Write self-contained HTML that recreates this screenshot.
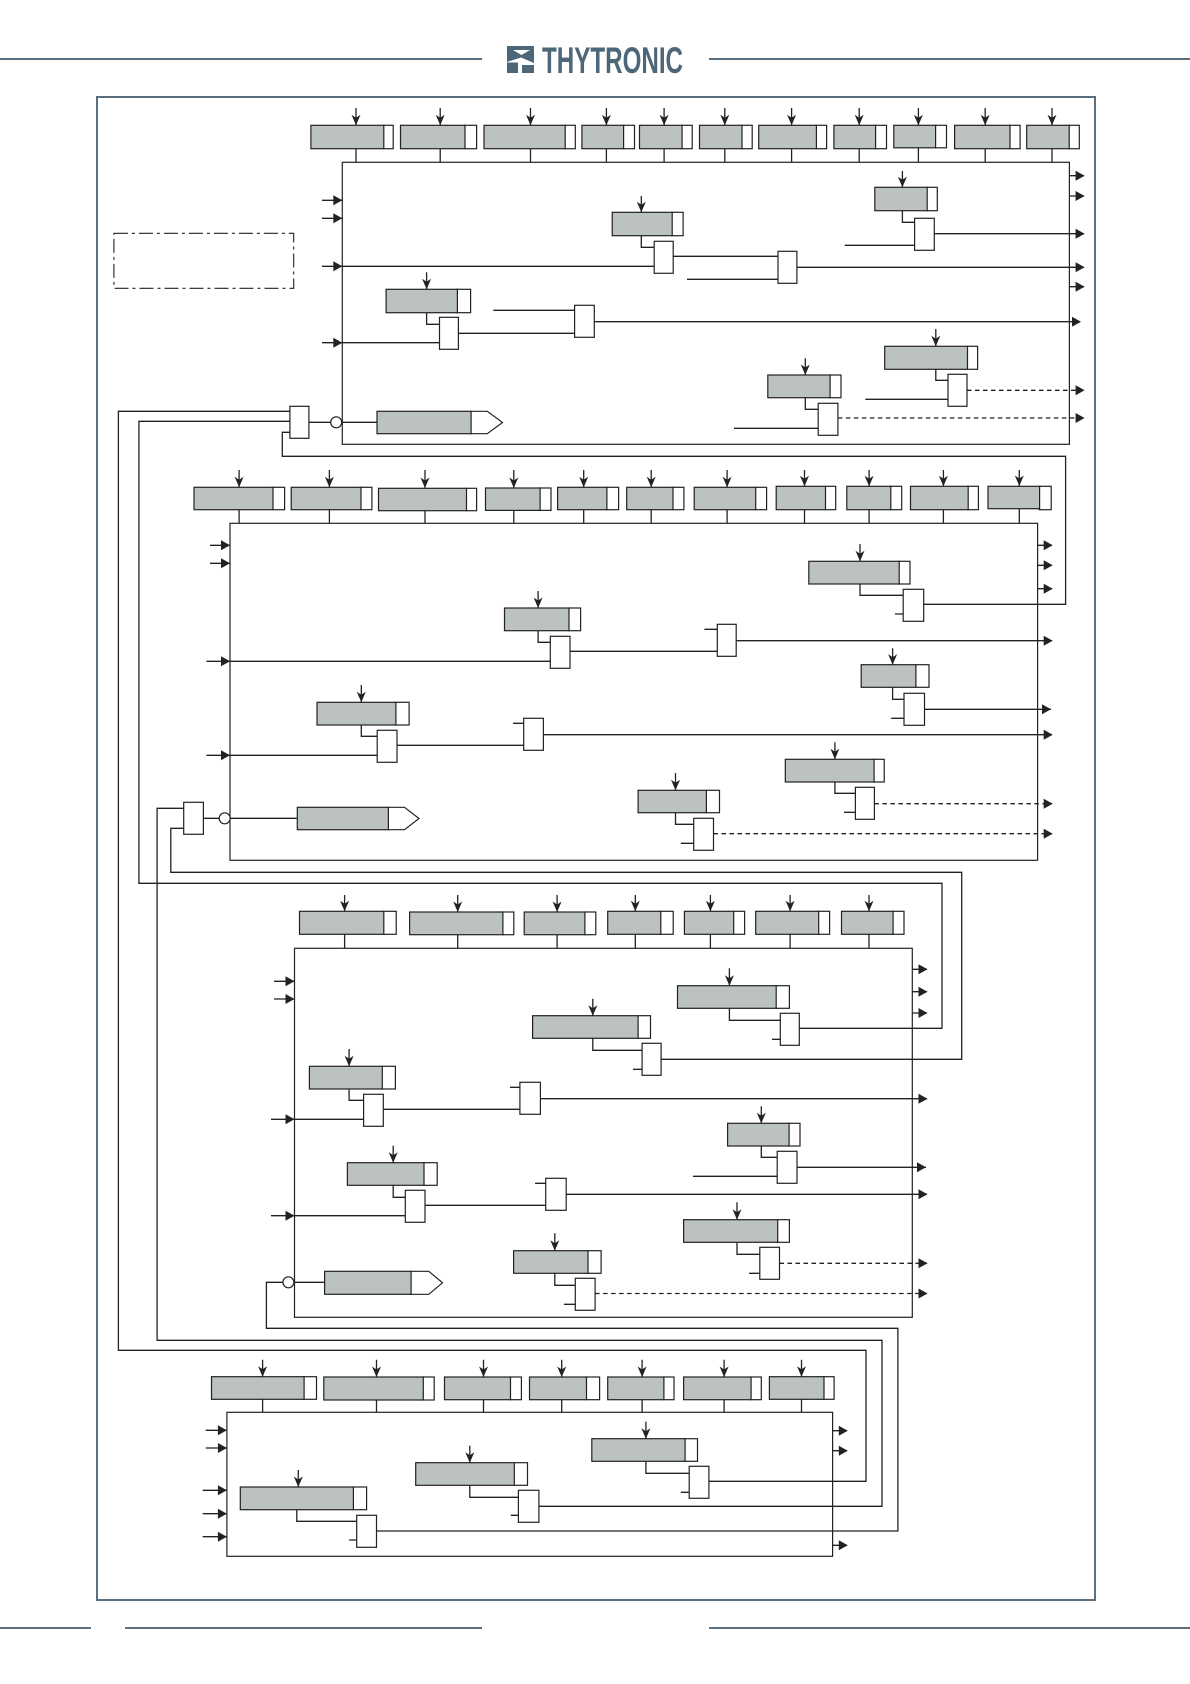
<!DOCTYPE html>
<html><head><meta charset="utf-8"><title>Diagram</title>
<style>
html,body{margin:0;padding:0;background:#fff}
svg{display:block}
.w{fill:none;stroke:#222;stroke-width:1.3}
.da{fill:none;stroke:#222;stroke-width:1.3;stroke-dasharray:4.500 3.500}
.g{fill:#bcc1c1;stroke:#222;stroke-width:1.2;transform:translateX(.5px)}
.b{fill:#fff;stroke:#222;stroke-width:1.2}
.m{fill:#fff;stroke:#222;stroke-width:1.2}
.h{fill:#5a7081}
</style></head><body>
<svg xmlns="http://www.w3.org/2000/svg" width="1190" height="1684" viewBox="0 0 1190 1684">
<defs>
<path id="d" d="M-4.500-10.500L0-7.500 4.500-10.500 0 0Z" fill="#222"/>
<path id="r" d="M-9-5L0 0-9 5Z" fill="#222"/>
</defs>
<!-- header/footer/frame -->
<rect class="h" x="0" y="58" width="482" height="2"/>
<rect class="h" x="709" y="58" width="481" height="2"/>
<rect class="h" x="0" y="1627" width="91" height="2"/>
<rect class="h" x="125" y="1627" width="357" height="2"/>
<rect class="h" x="709" y="1627" width="481" height="2"/>
<rect x="97" y="97" width="998" height="1503" fill="none" stroke="#5a7081" stroke-width="2"/>
<path d="M507 46H534V63L521 57.500 507 62ZM507 62.500H518V73H507ZM522 65H534V73H522Z" fill="#4d6779"/>
<path d="M513 50H530L521.500 55Z" fill="#fff"/>
<text x="542" y="73" font-family="'Liberation Sans',sans-serif" font-weight="bold" font-size="37.500" textLength="141" lengthAdjust="spacingAndGlyphs" fill="#4d6779">THYTRONIC</text>
<!-- dash-dot box -->
<rect x="113.900" y="233.300" width="179.800" height="55" fill="none" stroke="#222" stroke-width="1.100" stroke-dasharray="14 4 3 4"/>

<!-- main boxes -->
<rect class="m" x="342.300" y="162.300" width="727.100" height="282"/>
<rect class="m" x="230" y="523.300" width="807.600" height="337"/>
<rect class="m" x="294.500" y="948.300" width="617.800" height="369"/>
<rect class="m" x="226.900" y="1412.300" width="605.700" height="144"/>

<!-- wires -->
<path class="w" d="
M356 108V162M440.200 108V162M530.500 108V162M606.400 108V162M664.100 108V162M724.800 108V162M791.600 108V162M859.200 108V162M918.400 108V162M985.200 108V162M1052 108V162
M322 200.300H342M322 218.300H342M322 266.300H654M322 342.700H440
M1069 175.700H1084M1069 196H1084M1069 286.700H1084
M902.400 171V222.300H915M934 233.700H1084M844.800 245.300H915
M641.300 196V247.300H654M673 256.300H778M687 279.300H778M797 267.300H1084
M426.600 272.300V324.300H440M458 333.300H575M493.300 310.300H575M594 321.700H1080
M935.800 329V380.300H948M865.300 399.300H948
M805.300 358.300V409.300H818M734 428.300H818
M309 422.300H331M341.700 422.300H376.500
M290 411.300H118.400V1350.300H866V1481.300H709
M290 421.300H138.900V883.300H942V1028.300H799
M290 432.300H282.300V456.300H1065.600V604.300H923.700
M239.100 470V523M329.400 470V523M425 470V523M513.800 470V523M583.700 470V523M651.200 470V523M727.100 470V523M804.500 470V523M869.100 470V523M943.400 470V523M1019.300 470V523
M210 545.300H230M210 563.300H230M206.400 661.300H550M206.400 755.300H377
M1037.600 545.300H1052M1037.600 565.300H1052M1037.600 588.700H1052
M860 544V595.300H903M894.900 614H903
M538.100 591V642.300H550M570 651.300H717M704.400 629.300H717M736 640.700H1052
M892.600 648.300V699.300H904M891.100 718.300H904M924.500 709.300H1051
M361.300 685V736.300H377M397 745.300H524M513.100 723.300H524M543.400 734.700H1052
M834.900 742.300V793.300H855M844 812.300H855
M675.500 773V824.300H694M680.800 843.300H694
M183.700 808.300H157.100V1340.300H882V1506.300H538.900
M203.400 818.300H219.200M230.200 818.300H296.800
M183.700 828.300H170.800V872.300H961.700V1059.300H661.100
M344.600 895V948M457.700 895V948M557.100 895V948M635.300 895V948M710.400 895V948M790.100 895V948M869 895V948
M274 981.300H294.500M274 999H294.500M271 1119.300H364M271 1215.700H405
M912.300 969.300H927M912.300 991.700H927M912.300 1013H927
M729.400 968.300V1020.300H780M771.900 1039.300H780
M592.800 998.700V1050.300H642M633 1069.300H642
M349.100 1049V1100.300H364M383.300 1109.300H520M510 1087.300H520M540.400 1098.700H927
M761.300 1106.300V1157.300H777M693 1176.300H777M797 1167.300H926
M393.200 1145.700V1197.300H405M425 1205.300H546M535.100 1183.300H546M566.200 1194.300H927
M737 1202.300V1254.300H760M749.100 1273.300H760
M554.800 1233.300V1285.300H575M563.900 1304.300H575
M293.900 1282.300H324M282.900 1282.300H266.400V1328.300H897.900V1531H376.500
M262.600 1359.700V1412M376.500 1359.700V1412M483.500 1359.700V1412M561.700 1359.700V1412M642.100 1359.700V1412M724.100 1359.700V1412M801.500 1359.700V1412
M205.700 1430.300H227M205.700 1448H227M202.700 1490.300H227M202.700 1513.700H227M202.700 1536.700H227
M832.600 1430.700H847M832.600 1450.700H847M832.600 1545.300H847
M645.900 1421.700V1473.300H689M680.800 1492.300H689
M469.800 1445.700V1497.300H518M510.800 1515.300H518
M298.300 1470V1487M296.800 1509V1521.300H357M349.100 1540H357
"/>
<path class="da" d="M967 390.300H1084M837.900 418H1084M874.400 803.700H1052M713.500 833.700H1052M779.500 1263.300H927M595.100 1293.500H927"/>

<!-- top boxes section 1 -->
<g>
<rect class="b" x="383.300" y="125.300" width="9.900" height="23.400"/><rect class="g" x="310.400" y="125.300" width="72.900" height="23.400"/>
<rect class="b" x="464.500" y="125.300" width="12.100" height="23.400"/><rect class="g" x="400" y="125.300" width="64.500" height="23.400"/>
<rect class="b" x="564.700" y="125.300" width="10.600" height="23.400"/><rect class="g" x="483.500" y="125.300" width="81.200" height="23.400"/>
<rect class="b" x="623.100" y="125.300" width="11.400" height="23.400"/><rect class="g" x="581.400" y="125.300" width="41.700" height="23.400"/>
<rect class="b" x="681.600" y="125.300" width="10.600" height="23.400"/><rect class="g" x="639" y="125.300" width="42.600" height="23.400"/>
<rect class="b" x="741.500" y="125.300" width="10.700" height="23.400"/><rect class="g" x="699" y="125.300" width="42.500" height="23.400"/>
<rect class="b" x="815.900" y="125.300" width="10.700" height="23.400"/><rect class="g" x="758.200" y="125.300" width="57.700" height="23.400"/>
<rect class="b" x="875.100" y="125.300" width="11.400" height="23.400"/><rect class="g" x="833.400" y="125.300" width="41.700" height="23.400"/>
<rect class="b" x="935.100" y="125.300" width="11.400" height="22.500"/><rect class="g" x="893.300" y="125.300" width="41.800" height="22.500"/>
<rect class="b" x="1009.500" y="125.300" width="10.600" height="23.400"/><rect class="g" x="954.100" y="125.300" width="55.400" height="23.400"/>
<rect class="b" x="1068.700" y="125.300" width="10.600" height="23.400"/><rect class="g" x="1026.200" y="125.300" width="42.500" height="23.400"/>
<!-- inner section 1 -->
<rect class="b" x="926.700" y="187.300" width="10.600" height="23.400"/><rect class="g" x="874.300" y="187.300" width="52.400" height="23.400"/>
<rect class="b" x="671.700" y="212.300" width="11.400" height="23.400"/><rect class="g" x="611.700" y="212.300" width="60" height="23.400"/>
<rect class="b" x="456.900" y="289.300" width="13.700" height="23.400"/><rect class="g" x="385.600" y="289.300" width="71.300" height="23.400"/>
<rect class="b" x="967" y="346.300" width="10.600" height="23"/><rect class="g" x="884.200" y="346.300" width="82.800" height="23"/>
<rect class="b" x="829.600" y="375" width="11.400" height="22.700"/><rect class="g" x="767.300" y="375" width="62.300" height="22.700"/>
<path class="b" d="M470.600 411.300H487.300L502.500 422.500 487.300 433.700H470.600Z"/><rect class="g" x="376.500" y="411.300" width="94.100" height="22.400"/>
<rect class="b" x="914.600" y="218.300" width="19.700" height="32"/>
<rect class="b" x="654.200" y="241.300" width="19" height="32"/>
<rect class="b" x="778" y="251.300" width="18.900" height="32"/>
<rect class="b" x="439.500" y="317.300" width="18.900" height="32"/>
<rect class="b" x="574.600" y="305.300" width="19.700" height="32"/>
<rect class="b" x="948" y="374.300" width="19" height="32"/>
<rect class="b" x="818.200" y="403.300" width="19.700" height="32"/>
<rect class="b" x="289.900" y="406.300" width="19" height="32"/>
<circle class="b" cx="336.200" cy="422.300" r="5.500"/>
</g>
<!-- section 2 -->
<g>
<rect class="b" x="272.500" y="487.300" width="12.100" height="22.400"/><rect class="g" x="193.500" y="487.300" width="79" height="22.400"/>
<rect class="b" x="360.500" y="487.300" width="11.400" height="22.400"/><rect class="g" x="290.700" y="487.300" width="69.800" height="22.400"/>
<rect class="b" x="466" y="488.300" width="10.600" height="22.400"/><rect class="g" x="378" y="488.300" width="88" height="22.400"/>
<rect class="b" x="539.600" y="488" width="11.400" height="22.400"/><rect class="g" x="485" y="488" width="54.600" height="22.400"/>
<rect class="b" x="606.400" y="487.300" width="12.200" height="22.400"/><rect class="g" x="557.100" y="487.300" width="49.300" height="22.400"/>
<rect class="b" x="672.500" y="487.300" width="11.400" height="22.400"/><rect class="g" x="626.200" y="487.300" width="46.300" height="22.400"/>
<rect class="b" x="755.200" y="487.300" width="11.400" height="22.400"/><rect class="g" x="693.700" y="487.300" width="61.500" height="22.400"/>
<rect class="b" x="825" y="486.300" width="10.700" height="23.400"/><rect class="g" x="775.700" y="486.300" width="49.300" height="23.400"/>
<rect class="b" x="890.300" y="486.300" width="11.400" height="23.400"/><rect class="g" x="846.300" y="486.300" width="44" height="23.400"/>
<rect class="b" x="967.700" y="486.300" width="10.700" height="23.400"/><rect class="g" x="910" y="486.300" width="57.700" height="23.400"/>
<rect class="b" x="1039.100" y="486.300" width="12.100" height="23.400"/><rect class="g" x="987.500" y="486.300" width="51.600" height="22.400"/>
<rect class="b" x="898.700" y="561.300" width="11.300" height="22.700"/><rect class="g" x="808.300" y="561.300" width="90.400" height="22.700"/>
<rect class="b" x="568.500" y="608" width="12.100" height="22.700"/><rect class="g" x="504" y="608" width="64.500" height="22.700"/>
<rect class="b" x="915.400" y="664.700" width="13.600" height="22.600"/><rect class="g" x="860.700" y="664.700" width="54.700" height="22.600"/>
<rect class="b" x="395.400" y="702.300" width="13.700" height="22.700"/><rect class="g" x="316.500" y="702.300" width="78.900" height="22.700"/>
<rect class="b" x="873.600" y="759.300" width="10.600" height="22.700"/><rect class="g" x="784.800" y="759.300" width="88.800" height="22.700"/>
<rect class="b" x="705.900" y="790.300" width="13.600" height="22.400"/><rect class="g" x="637.600" y="790.300" width="68.300" height="22.400"/>
<path class="b" d="M387.900 807.300H404.500L419 818.500 404.500 829.700H387.900Z"/><rect class="g" x="296.800" y="807.300" width="91.100" height="22.400"/>
<rect class="b" x="903.200" y="589.300" width="20.500" height="32"/>
<rect class="b" x="550.300" y="636.300" width="19.700" height="32"/>
<rect class="b" x="717.300" y="624.300" width="18.900" height="32"/>
<rect class="b" x="904" y="693.300" width="20.500" height="32"/>
<rect class="b" x="377.200" y="730.300" width="19.800" height="32"/>
<rect class="b" x="523.700" y="718.300" width="19.700" height="32"/>
<rect class="b" x="855.400" y="787.300" width="19" height="32"/>
<rect class="b" x="693.700" y="818.300" width="19.800" height="32"/>
<rect class="b" x="183.700" y="802.300" width="19.700" height="32"/>
<circle class="b" cx="224.700" cy="818.300" r="5.500"/>
</g>
<!-- section 3 -->
<g>
<rect class="b" x="383.300" y="911.300" width="12.900" height="23"/><rect class="g" x="299" y="911.300" width="84.300" height="23"/>
<rect class="b" x="502.400" y="912" width="11.400" height="22.700"/><rect class="g" x="409.100" y="912" width="93.300" height="22.700"/>
<rect class="b" x="584.400" y="912" width="11.400" height="22.700"/><rect class="g" x="523.700" y="912" width="60.700" height="22.700"/>
<rect class="b" x="660.300" y="911.300" width="12.900" height="23"/><rect class="g" x="607.200" y="911.300" width="53.100" height="23"/>
<rect class="b" x="733.200" y="911.300" width="11.400" height="23"/><rect class="g" x="683.900" y="911.300" width="49.300" height="23"/>
<rect class="b" x="818.200" y="911.300" width="11.400" height="23"/><rect class="g" x="755.200" y="911.300" width="63" height="23"/>
<rect class="b" x="892.600" y="911.300" width="11.400" height="23"/><rect class="g" x="841" y="911.300" width="51.600" height="23"/>
<rect class="b" x="775.700" y="985.700" width="13.700" height="22.600"/><rect class="g" x="677" y="985.700" width="98.700" height="22.600"/>
<rect class="b" x="637.600" y="1015.700" width="12.900" height="22.600"/><rect class="g" x="532.100" y="1015.700" width="105.500" height="22.600"/>
<rect class="b" x="381.800" y="1066.300" width="13.600" height="22.700"/><rect class="g" x="308.900" y="1066.300" width="72.900" height="22.700"/>
<rect class="b" x="788.600" y="1123.300" width="11.400" height="22.700"/><rect class="g" x="727.100" y="1123.300" width="61.500" height="22.700"/>
<rect class="b" x="423.500" y="1162.700" width="13.700" height="22.600"/><rect class="g" x="346.900" y="1162.700" width="76.600" height="22.600"/>
<rect class="b" x="777.200" y="1219.700" width="12.200" height="22.600"/><rect class="g" x="683.100" y="1219.700" width="94.100" height="22.600"/>
<rect class="b" x="587.500" y="1250.700" width="13.600" height="22.600"/><rect class="g" x="513.100" y="1250.700" width="74.400" height="22.600"/>
<path class="b" d="M410.600 1271.300H428.800L442.500 1282.800 428.800 1294.300H410.600Z"/><rect class="g" x="324.100" y="1271.300" width="86.500" height="23"/>
<rect class="b" x="780.300" y="1013.300" width="19" height="32"/>
<rect class="b" x="642.100" y="1043.300" width="19" height="32"/>
<rect class="b" x="363.600" y="1094.300" width="19.700" height="32"/>
<rect class="b" x="519.900" y="1082.300" width="20.500" height="32"/>
<rect class="b" x="777.200" y="1151.300" width="19.800" height="32"/>
<rect class="b" x="405.300" y="1190.300" width="19.700" height="32"/>
<rect class="b" x="545.700" y="1178.300" width="20.500" height="32"/>
<rect class="b" x="759.800" y="1247.300" width="19.700" height="32"/>
<rect class="b" x="575.300" y="1278.300" width="19.800" height="32"/>
<circle class="b" cx="288.400" cy="1282.300" r="5.500"/>
</g>
<!-- section 4 -->
<g>
<rect class="b" x="303.600" y="1376.700" width="12.900" height="22.600"/><rect class="g" x="211" y="1376.700" width="92.600" height="22.600"/>
<rect class="b" x="422.800" y="1377" width="11.400" height="23"/><rect class="g" x="323.300" y="1377" width="99.500" height="23"/>
<rect class="b" x="510" y="1377" width="11.400" height="22.700"/><rect class="g" x="444" y="1377" width="66" height="22.700"/>
<rect class="b" x="586" y="1377" width="13.600" height="22.700"/><rect class="g" x="529" y="1377" width="57" height="22.700"/>
<rect class="b" x="663.400" y="1377" width="10.600" height="22.700"/><rect class="g" x="607.200" y="1377" width="56.200" height="22.700"/>
<rect class="b" x="750.600" y="1377" width="10.700" height="22.700"/><rect class="g" x="683.100" y="1377" width="67.500" height="22.700"/>
<rect class="b" x="823.500" y="1376.700" width="10.600" height="22.600"/><rect class="g" x="768.900" y="1376.700" width="54.600" height="22.600"/>
<rect class="b" x="684.600" y="1438.700" width="12.900" height="22.600"/><rect class="g" x="591.300" y="1438.700" width="93.300" height="22.600"/>
<rect class="b" x="513.800" y="1462.700" width="13.700" height="22.600"/><rect class="g" x="415.200" y="1462.700" width="98.600" height="22.600"/>
<rect class="b" x="352.900" y="1487" width="13.700" height="22.700"/><rect class="g" x="239.800" y="1487" width="113.100" height="22.700"/>
<rect class="b" x="689.200" y="1466.300" width="19.700" height="32"/>
<rect class="b" x="518.400" y="1490.300" width="20.500" height="32"/>
<rect class="b" x="356.700" y="1515.300" width="19.800" height="32"/>
</g>
<!-- down arrowheads -->
<g>
<use href="#d" x="356" y="125.300"/><use href="#d" x="440.200" y="125.300"/><use href="#d" x="530.500" y="125.300"/><use href="#d" x="606.400" y="125.300"/><use href="#d" x="664.100" y="125.300"/><use href="#d" x="724.800" y="125.300"/><use href="#d" x="791.600" y="125.300"/><use href="#d" x="859.200" y="125.300"/><use href="#d" x="918.400" y="125.300"/><use href="#d" x="985.200" y="125.300"/><use href="#d" x="1052" y="125.300"/>
<use href="#d" x="902.400" y="187.300"/><use href="#d" x="641.300" y="212.300"/><use href="#d" x="426.600" y="289.300"/><use href="#d" x="935.800" y="346.300"/><use href="#d" x="805.300" y="375"/>
<use href="#d" x="239.100" y="487.300"/><use href="#d" x="329.400" y="487.300"/><use href="#d" x="425" y="488"/><use href="#d" x="513.800" y="488"/><use href="#d" x="583.700" y="487.300"/><use href="#d" x="651.200" y="487.300"/><use href="#d" x="727.100" y="487.300"/><use href="#d" x="804.500" y="486.300"/><use href="#d" x="869.100" y="486.300"/><use href="#d" x="943.400" y="486.300"/><use href="#d" x="1019.300" y="486"/>
<use href="#d" x="860" y="561.300"/><use href="#d" x="538.100" y="608"/><use href="#d" x="892.600" y="664.700"/><use href="#d" x="361.300" y="702.300"/><use href="#d" x="834.900" y="759.300"/><use href="#d" x="675.500" y="790.300"/>
<use href="#d" x="344.600" y="911.300"/><use href="#d" x="457.700" y="912"/><use href="#d" x="557.100" y="912"/><use href="#d" x="635.300" y="911.300"/><use href="#d" x="710.400" y="911.300"/><use href="#d" x="790.100" y="911.300"/><use href="#d" x="869" y="911.300"/>
<use href="#d" x="729.400" y="985.700"/><use href="#d" x="592.800" y="1015.700"/><use href="#d" x="349.100" y="1066.300"/><use href="#d" x="761.300" y="1123.300"/><use href="#d" x="393.200" y="1162.700"/><use href="#d" x="737" y="1219.700"/><use href="#d" x="554.800" y="1250.700"/>
<use href="#d" x="262.600" y="1376.700"/><use href="#d" x="376.500" y="1377"/><use href="#d" x="483.500" y="1377"/><use href="#d" x="561.700" y="1377"/><use href="#d" x="642.100" y="1377"/><use href="#d" x="724.100" y="1377"/><use href="#d" x="801.500" y="1376.700"/>
<use href="#d" x="645.900" y="1438.700"/><use href="#d" x="469.800" y="1462.700"/><use href="#d" x="298.300" y="1487"/>
</g>
<!-- right arrowheads -->
<g>
<use href="#r" x="342.300" y="200.300"/><use href="#r" x="342.300" y="218.300"/><use href="#r" x="342.300" y="266.300"/><use href="#r" x="342.300" y="342.700"/>
<use href="#r" x="1084.600" y="175.700"/><use href="#r" x="1084.600" y="196"/><use href="#r" x="1084.600" y="233.700"/><use href="#r" x="1084.600" y="267.300"/><use href="#r" x="1084.600" y="286.700"/><use href="#r" x="1081" y="321.700"/><use href="#r" x="1084.600" y="390.300"/><use href="#r" x="1084.600" y="418"/>
<use href="#r" x="230" y="545.300"/><use href="#r" x="230" y="563.300"/><use href="#r" x="230" y="661.300"/><use href="#r" x="230" y="755.300"/>
<use href="#r" x="1052.700" y="545.300"/><use href="#r" x="1052.700" y="565.300"/><use href="#r" x="1052.700" y="588.700"/><use href="#r" x="1052.700" y="640.700"/><use href="#r" x="1051" y="709.300"/><use href="#r" x="1052.700" y="734.700"/><use href="#r" x="1052.700" y="803.700"/><use href="#r" x="1052.700" y="833.700"/>
<use href="#r" x="294.500" y="981.300"/><use href="#r" x="294.500" y="999"/><use href="#r" x="294.500" y="1119.300"/><use href="#r" x="294.500" y="1215.700"/>
<use href="#r" x="927.500" y="969.300"/><use href="#r" x="927.500" y="991.700"/><use href="#r" x="927.500" y="1013"/><use href="#r" x="927.500" y="1098.700"/><use href="#r" x="926" y="1167.300"/><use href="#r" x="927.500" y="1194.300"/><use href="#r" x="927.500" y="1263.300"/><use href="#r" x="927.500" y="1293.500"/>
<use href="#r" x="226.900" y="1430.300"/><use href="#r" x="226.900" y="1448"/><use href="#r" x="226.900" y="1490.300"/><use href="#r" x="226.900" y="1513.700"/><use href="#r" x="226.900" y="1536.700"/>
<use href="#r" x="847.800" y="1430.700"/><use href="#r" x="847.800" y="1450.700"/><use href="#r" x="847.800" y="1545.300"/>
</g>
</svg>
</body></html>
